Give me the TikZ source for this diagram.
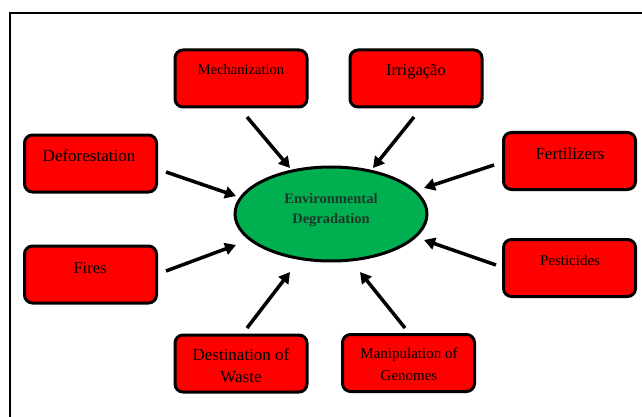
\documentclass[tikz,border=0pt]{standalone}
\usepackage{fontspec}
\setmainfont{Liberation Serif}
\usetikzlibrary{arrows.meta,shapes.geometric}
\definecolor{boxred}{RGB}{255,0,0}
\definecolor{ovalgreen}{RGB}{0,176,80}
\definecolor{ovaltext}{RGB}{30,55,40}
\begin{document}
\begin{tikzpicture}[x=1pt,y=-1pt,
  cause/.style={draw=black,line width=3pt,rounded corners=8pt,fill=boxred,minimum width=132pt,minimum height=57pt,inner sep=0pt},
  lbl/.style={inner sep=0pt,align=center,text=black},
  arr/.style={line width=3.5pt,-{Triangle[length=11pt,width=12pt]}}]
\clip (0,0) rectangle (642,417);
\fill[white] (0,0) rectangle (642,417);
\draw[line width=2pt] (10,430) -- (10,13) -- (660,13);
% boxes
\node[cause] (mech) at (241,78.5) {};
\node[cause] (irr) at (416,78.5) {};
\node[cause] (defo) at (90.5,163.5) {};
\node[cause] (fert) at (569.5,161) {};
\node[cause] (fire) at (90.5,274.5) {};
\node[cause] (pest) at (569.5,268) {};
\node[cause] (dest) at (241,363.5) {};
\node[cause] (mani) at (408.5,363) {};
% labels
\node[lbl,font=\fontsize{14.5}{16}\selectfont] (tmech) at (241,70) {Mechanization};
\node[lbl,font=\fontsize{16.5}{18}\selectfont] (tirr) at (416,72) {Irrigação};
\node[lbl,font=\fontsize{17}{19}\selectfont] (tdefo) at (89,156) {Deforestation};
\node[lbl,font=\fontsize{17}{19}\selectfont] (tfert) at (570,154) {Fertilizers};
\node[lbl,font=\fontsize{16.5}{18}\selectfont] (tfire) at (90,268) {Fires};
\node[lbl,font=\fontsize{15}{17}\selectfont] (tpest) at (570,260) {Pesticides};
\node[lbl,font=\fontsize{17}{22}\selectfont] (tdest) at (241,366) {Destination of\\Waste};
\node[lbl,font=\fontsize{15}{22}\selectfont] (tmani) at (409,364) {Manipulation of\\Genomes};
% center
\node[ellipse,draw=black,line width=3pt,fill=ovalgreen,minimum width=192pt,minimum height=94pt,inner sep=0pt] (env) at (331,214) {};
\node[lbl,text=ovaltext,font=\bfseries\fontsize{14.5}{20}\selectfont] (tenv) at (331,210) {Environmental\\Degradation};
% arrow ends
\coordinate (amech1) at (247,117); \coordinate (amech2) at (290,168);
\coordinate (airr1) at (414,117); \coordinate (airr2) at (373,168);
\coordinate (adefo1) at (166,172); \coordinate (adefo2) at (236,196);
\coordinate (afert1) at (494,165); \coordinate (afert2) at (424,188);
\coordinate (afire1) at (166,271); \coordinate (afire2) at (236,245);
\coordinate (apest1) at (496,265); \coordinate (apest2) at (424,240);
\coordinate (adest1) at (247,328); \coordinate (adest2) at (290,272);
\coordinate (amani1) at (405,328); \coordinate (amani2) at (360,272);
\draw[arr] (amech1) -- (amech2);
\draw[arr] (airr1) -- (airr2);
\draw[arr] (adefo1) -- (adefo2);
\draw[arr] (afert1) -- (afert2);
\draw[arr] (afire1) -- (afire2);
\draw[arr] (apest1) -- (apest2);
\draw[arr] (adest1) -- (adest2);
\draw[arr] (amani1) -- (amani2);
\end{tikzpicture}
\end{document}
